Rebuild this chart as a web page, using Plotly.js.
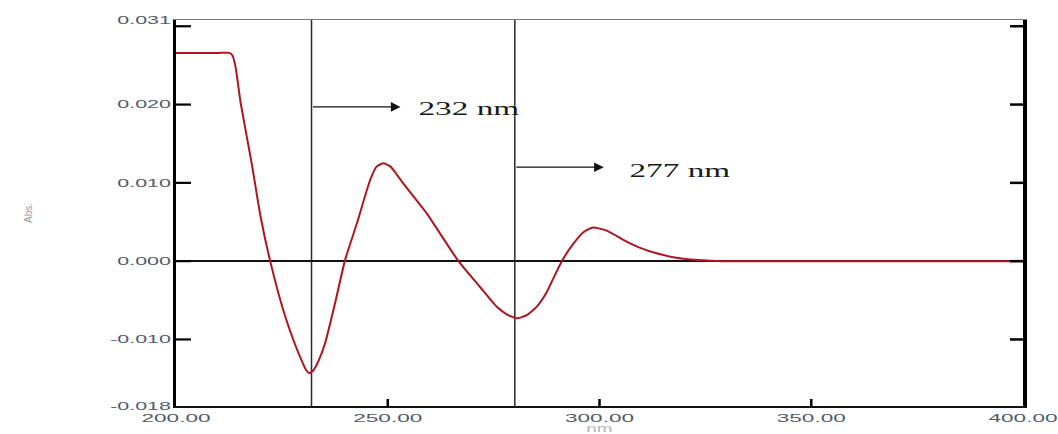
<!DOCTYPE html>
<html>
<head>
<meta charset="utf-8">
<script src="https://cdn.plot.ly/plotly-3.0.1.min.js"></script>
<style>
  html, body { margin: 0; padding: 0; background: #ffffff; }
  #chart { width: 1058px; height: 434px; }
</style>
</head>
<body>
<div id="chart"></div>
<script>
// ---- data ----
const wavelength = [200, 205, 210, 212.6, 213.3, 214.0, 215.3, 217.9, 220.0, 222.2, 225.3, 228.3, 229.6, 230.6, 231.5, 232.5, 233.6, 235.2, 237.5, 239.9, 242.7, 245.8, 247.4, 249.0, 250.6, 251.8, 253.7, 259.2, 266.7, 271.8, 275.7, 278.1, 280.5, 282.8, 285.2, 287.5, 289.1, 291.1, 293.8, 296.2, 298.5, 301.7, 306.4, 309.6, 313.5, 317.4, 321.4, 325.0, 329.2, 340, 360, 380, 400];
const absorbance = [0.0266, 0.0266, 0.0266, 0.0266, 0.0263, 0.0250, 0.0201, 0.0124, 0.0056, 0.0001, -0.0062, -0.0109, -0.0126, -0.0138, -0.0143, -0.0139, -0.0128, -0.0105, -0.0055, 0.0001, 0.0048, 0.0103, 0.0121, 0.0125, 0.0121, 0.0113, 0.0099, 0.0061, 0.0000, -0.0033, -0.0058, -0.0068, -0.0073, -0.0069, -0.0058, -0.0040, -0.0022, 0.0000, 0.0022, 0.0037, 0.0043, 0.0039, 0.0025, 0.0017, 0.0010, 0.0005, 0.0002, 0.0001, 0.0000, 0.0000, 0.0000, 0.0000, 0.0000];

const xTickVals = [200, 250, 300, 350, 400];
const xTickText = ['200.00', '250.00', '300.00', '350.00', '400.00'];
const xMarkTicks = [250, 300, 350];
const yTickVals = [-0.01849, -0.010, 0.000, 0.010, 0.020, 0.03079];
const yTickText = ['-0.018', '-0.010', '0.000', '0.010', '0.020', '0.031'];
const yMarkTicks = [-0.010, 0.000, 0.010, 0.020, 0.030];

const markerWavelengths = [232, 280];          // vertical marker lines
const markerLabels = ['232 nm', '277 nm'];
const arrowLevels = [0.0197, 0.0120];          // Abs level of each arrow
const arrowLength = 21;                        // nm
const labelCenters = [269.2, 319.0];           // nm
const labelLevels = [0.0195, 0.0116];

const xRange = [200, 400];
const yRange = [-0.0185, 0.0308];

// ---- geometry of the frame (pixels) ----
const W = 1058, H = 434, M = { l: 176, r: 35, t: 20, b: 28 };
const plotW = W - M.l - M.r, plotH = H - M.t - M.b;

// ---- build ----
const trace = {
  x: wavelength, y: absorbance, type: 'scatter', mode: 'lines',
  line: { color: '#b0141c', width: 2, shape: 'spline', smoothing: 0.5 },
  hoverinfo: 'skip', showlegend: false
};
const frameTraces = [
  { x: [], y: [], type: 'scatter', mode: 'lines', xaxis: 'x2', yaxis: 'y', hoverinfo: 'skip', showlegend: false },
  { x: [], y: [], type: 'scatter', mode: 'lines', xaxis: 'x', yaxis: 'y2', hoverinfo: 'skip', showlegend: false },
  { x: [], y: [], type: 'scatter', mode: 'lines', xaxis: 'x', yaxis: 'y3', hoverinfo: 'skip', showlegend: false }
];

const shapes = markerWavelengths.map(w => ({
  type: 'line', xref: 'x', yref: 'paper', x0: w, x1: w, y0: 0, y1: 1,
  line: { color: '#2a2a2a', width: 1.5 }, layer: 'below'
}));
// inward tick marks of the frame
yMarkTicks.forEach(v => {
  shapes.push({ type: 'line', xref: 'paper', yref: 'y', x0: 0, x1: 15 / plotW, y0: v, y1: v,
                line: { color: '#000', width: 2.2 } });
  shapes.push({ type: 'line', xref: 'paper', yref: 'y', x0: 1 - 13 / plotW, x1: 1, y0: v, y1: v,
                line: { color: '#000', width: 2.5 } });
});
xMarkTicks.forEach(v => {
  shapes.push({ type: 'line', xref: 'x', yref: 'paper', x0: v, x1: v, y0: 0, y1: 7 / plotH,
                line: { color: '#000', width: 2.5 } });
});

const annotations = [];
markerWavelengths.forEach((w, i) => {
  annotations.push({
    xref: 'x', yref: 'y', axref: 'x', ayref: 'y',
    x: w + arrowLength, y: arrowLevels[i], ax: w, ay: arrowLevels[i],
    text: '', showarrow: true, arrowhead: 2, arrowsize: 1.6, arrowwidth: 1.2,
    arrowcolor: '#111', standoff: 0, startstandoff: 0
  });
  annotations.push({
    xref: 'x', yref: 'y', x: labelCenters[i], y: labelLevels[i],
    text: markerLabels[i], showarrow: false,
    font: { family: 'Liberation Serif, Times New Roman, serif', size: 19, color: '#1a1a1a' },
    xanchor: 'center', yanchor: 'middle'
  });
});

const tickFont = { family: 'Liberation Sans, Arial, sans-serif', size: 11, color: '#4f5b6b' };

const layout = {
  width: W, height: H,
  margin: { l: M.l, r: M.r, t: M.t, b: M.b, pad: 0 },
  paper_bgcolor: '#ffffff', plot_bgcolor: '#ffffff',
  showlegend: false,
  xaxis: {
    range: xRange, tickvals: xTickVals, ticktext: xTickText, ticks: '',
    showline: true, linecolor: '#111', linewidth: 2,
    showgrid: false, zeroline: false, tickfont: tickFont, ticklabelstandoff: 1,
    title: { text: 'nm', font: { family: 'Liberation Sans, Arial, sans-serif', size: 10, color: '#b5b5b5' }, standoff: 10 }
  },
  xaxis2: {
    overlaying: 'x', side: 'top', anchor: 'y', range: xRange,
    showline: true, linecolor: '#7a7a7a', linewidth: 1.2,
    showticklabels: false, ticks: '', showgrid: false, zeroline: false
  },
  yaxis: {
    range: yRange, tickvals: yMarkTicks, ticks: '',
    showticklabels: false, showline: true, linecolor: '#000', linewidth: 3,
    showgrid: false, zeroline: true, zerolinecolor: '#111', zerolinewidth: 1.5
  },
  yaxis2: {
    overlaying: 'y', side: 'left', anchor: 'x', range: yRange,
    tickvals: yTickVals, ticktext: yTickText, ticks: '',
    showticklabels: true, tickfont: tickFont, ticklabelstandoff: 4,
    showline: false, showgrid: false, zeroline: false,
    title: { text: 'Abs.', font: { family: 'Liberation Sans, Arial, sans-serif', size: 10, color: '#9a9a9a' }, standoff: 105 }
  },
  yaxis3: {
    overlaying: 'y', side: 'right', anchor: 'x', range: yRange, ticks: '',
    showticklabels: false, showline: true, linecolor: '#000', linewidth: 3.5,
    showgrid: false, zeroline: false
  },
  shapes: shapes,
  annotations: annotations
};

function stretch(selector, factor) {
  document.querySelectorAll(selector).forEach(t => {
    const w = t.getComputedTextLength();
    if (w > 0) {
      t.setAttribute('textLength', (w * factor).toFixed(1));
      t.setAttribute('lengthAdjust', 'spacingAndGlyphs');
    }
  });
}

Plotly.newPlot('chart', frameTraces.concat([trace]), layout, { staticPlot: true, displayModeBar: false }).then(() => {
  stretch('.y2tick text', 1.95);
  stretch('.xtick text', 2.05);
  stretch('.annotation-text', 1.75);
  stretch('.g-xtitle text', 1.9);
});
</script>
</body>
</html>
